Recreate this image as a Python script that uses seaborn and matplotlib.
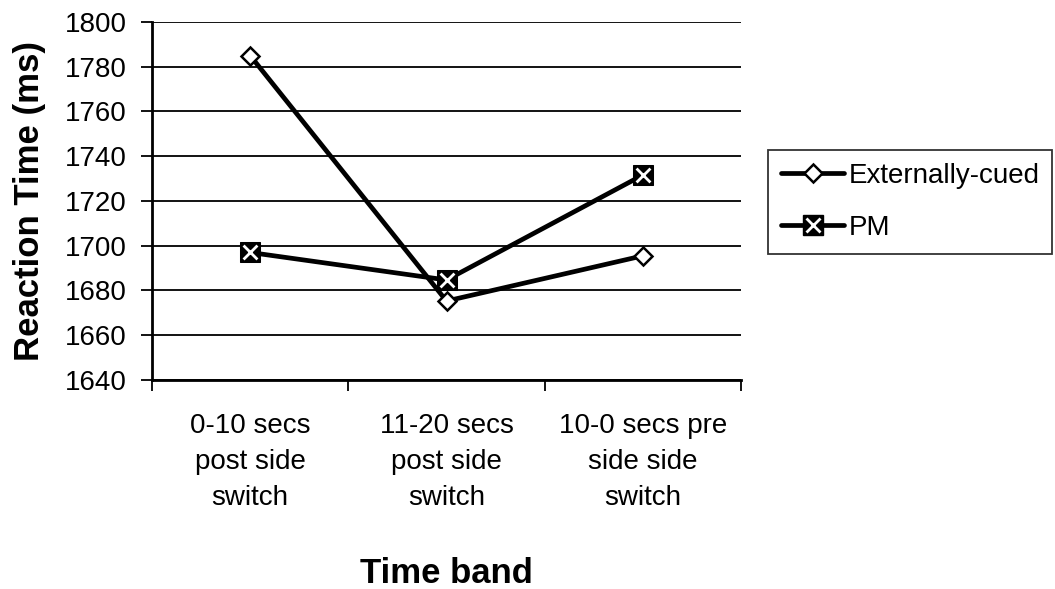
import matplotlib
matplotlib.use("Agg")
import matplotlib.pyplot as plt
import seaborn as sns
import pandas as pd
from matplotlib.lines import Line2D
from matplotlib.legend_handler import HandlerTuple

categories = ["0-10 secs\npost side\nswitch", "11-20 secs\npost side\nswitch", "10-0 secs pre\nside side\nswitch"]
externally_cued = [1785, 1675.3, 1695.5]
pm = [1697, 1684.7, 1731.6]
series_names = ["Externally-cued", "PM"]
y_ticks = list(range(1640, 1801, 20))

sns.set_style("white")
plt.rcParams["font.family"] = ["Liberation Sans", "DejaVu Sans"]
plt.rcParams["text.color"] = "black"
plt.rcParams["axes.labelcolor"] = "black"
plt.rcParams["xtick.color"] = "black"
plt.rcParams["ytick.color"] = "black"

df = pd.DataFrame({
    "pos": list(range(len(categories))) * 2,
    "rt": externally_cued + pm,
    "series": [series_names[0]] * 3 + [series_names[1]] * 3,
})

fig = plt.figure(figsize=(10.55, 5.89), dpi=100)
ax = fig.add_axes([152 / 1055, 1 - 380 / 589, (741 - 152) / 1055, (380 - 22) / 589])

lw = 3.4
fs = 20
ec = df[df.series == series_names[0]]
p = df[df.series == series_names[1]]
sns.lineplot(data=ec, x="pos", y="rt", ax=ax, color="black", lw=lw, marker="D",
             markersize=9, markerfacecolor="white", markeredgecolor="black",
             markeredgewidth=1.8, legend=False, zorder=4)
sns.lineplot(data=p, x="pos", y="rt", ax=ax, color="black", lw=lw, marker="s",
             markersize=15, markerfacecolor="black", markeredgecolor="black",
             legend=False, zorder=5)
sns.scatterplot(data=p, x="pos", y="rt", ax=ax, marker="x", s=100, color="white",
                linewidth=2.0, legend=False, zorder=6)

ax.set_xlim(-0.5, 2.5)
ax.set_ylim(1640, 1800)
ax.set_yticks(y_ticks)
ax.set_xticks(range(len(categories)))
ax.set_xticklabels(categories, fontsize=fs, linespacing=1.5)
ax.set_xticks([-0.5, 0.5, 1.5, 2.5], minor=True)
ax.tick_params(axis="x", which="major", length=0, pad=24)
ax.tick_params(axis="x", which="minor", length=8, width=1.3, color="black", bottom=True)
ax.tick_params(axis="y", which="major", length=8, width=1.3, color="black", left=True,
               labelsize=fs, pad=10)
ax.grid(axis="y", color="black", lw=1.3)
ax.set_axisbelow(True)
for s in ["top", "right"]:
    ax.spines[s].set_visible(False)
for s in ["left", "bottom"]:
    ax.spines[s].set_color("black")
    ax.spines[s].set_linewidth(2)

ax.set_xlabel("Time band", fontsize=25, fontweight="bold", labelpad=33)
ax.set_ylabel("Reaction Time (ms)", fontsize=25, fontweight="bold", labelpad=14)

h1 = Line2D([], [], color="black", lw=lw, marker="D", markersize=9,
            markerfacecolor="white", markeredgecolor="black", markeredgewidth=1.8)
h2a = Line2D([], [], color="black", lw=lw, marker="s", markersize=15,
             markerfacecolor="black", markeredgecolor="black")
h2b = Line2D([], [], color="white", lw=0, marker="x", markersize=10, markeredgewidth=2.0)
leg = ax.legend([h1, (h2a, h2b)], series_names, loc="upper left",
                bbox_to_anchor=(1.046, 0.642), fontsize=fs, frameon=True,
                fancybox=False, handlelength=2.3, handletextpad=0.15,
                borderpad=0.45, labelspacing=0.95, borderaxespad=0,
                handler_map={tuple: HandlerTuple(ndivide=1, pad=0)})
leg.get_frame().set_edgecolor("black")
leg.get_frame().set_linewidth(1.3)

fig.savefig("out.png", dpi=100)
